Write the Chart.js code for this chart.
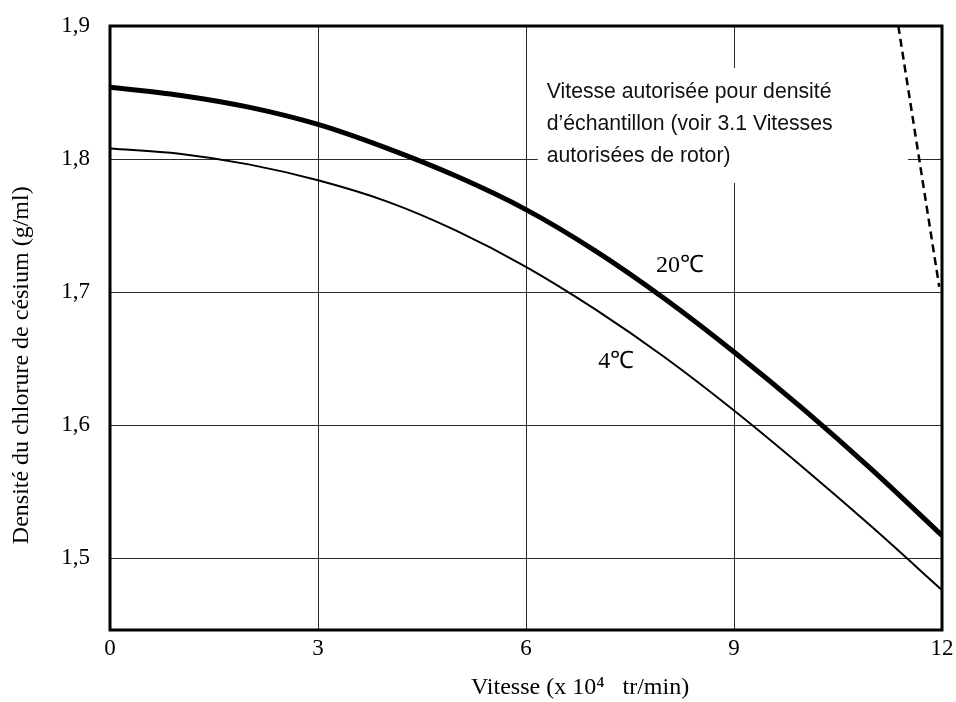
<!DOCTYPE html>
<html>
<head>
<meta charset="utf-8">
<script src="https://cdn.jsdelivr.net/npm/chart.js@4/dist/chart.umd.min.js"></script>
<style>
  html, body { margin: 0; padding: 0; background: #fff; }
  #wrap { width: 956px; height: 702px; }
</style>
</head>
<body>
<div id="wrap"><canvas id="c" width="956" height="702"></canvas></div>
<script>
// ---- data ----
const speeds = [0, 1, 2, 3, 4, 5, 6, 7, 8, 9, 10, 11, 12];
const density20C = [1.854, 1.848, 1.839, 1.826, 1.808, 1.787, 1.762, 1.731, 1.695, 1.655, 1.612, 1.566, 1.517];
const density4C  = [1.808, 1.804, 1.796, 1.784, 1.768, 1.746, 1.719, 1.687, 1.651, 1.611, 1.568, 1.523, 1.476];
const limitSpeed = [11.37, 11.96];
const limitDensity = [1.9, 1.704];
const xTickValues = [0, 3, 6, 9, 12];
const xTickLabels = ['0', '3', '6', '9', '12'];
const yTickValues = [1.5, 1.6, 1.7, 1.8, 1.9];
const yTickLabels = ['1,5', '1,6', '1,7', '1,8', '1,9'];
const seriesLabels = ['20℃', '4℃'];
const noteLines = ['Vitesse autorisée pour densité', 'd’échantillon (voir 3.1 Vitesses', 'autorisées de rotor)'];
const xTitle = 'Vitesse (x 10⁴   tr/min)';
const yTitle = 'Densité du chlorure de césium (g/ml)';

const SERIF = '"Liberation Serif", "Times New Roman", serif';
const SANS = '"Liberation Sans", Arial, sans-serif';

const toXY = (xs, ys) => xs.map((x, i) => ({ x: x, y: ys[i] }));

const decorations = {
  id: 'decorations',
  beforeDatasetsDraw(chart) {
    const { ctx, scales: { x, y } } = chart;
    ctx.save();
    // white box behind the note
    const bx0 = x.getPixelForValue(6.17), bx1 = x.getPixelForValue(11.51);
    const by0 = y.getPixelForValue(1.8684), by1 = y.getPixelForValue(1.782);
    ctx.fillStyle = '#fff';
    ctx.fillRect(bx0, by0, bx1 - bx0, by1 - by0);
    // note text (slightly condensed sans)
    ctx.fillStyle = '#111';
    ctx.font = '22px ' + SANS;
    ctx.textAlign = 'left';
    ctx.textBaseline = 'alphabetic';
    const tx = x.getPixelForValue(6.30);
    const baselines = [1.8459, 1.8218, 1.7977];
    noteLines.forEach((t, i) => {
      ctx.save();
      ctx.translate(tx, y.getPixelForValue(baselines[i]));
      ctx.scale(0.963, 1);
      ctx.fillText(t, 0, 0);
      ctx.restore();
    });
    ctx.restore();
  },
  afterDatasetsDraw(chart) {
    const { ctx, chartArea: a, scales: { x, y } } = chart;
    ctx.save();
    // frame
    ctx.strokeStyle = '#000';
    ctx.lineWidth = 3;
    ctx.strokeRect(a.left, a.top, a.right - a.left, a.bottom - a.top);
    // series labels
    ctx.fillStyle = '#000';
    ctx.font = '24px ' + SERIF;
    ctx.textAlign = 'center';
    ctx.textBaseline = 'middle';
    ctx.fillText(seriesLabels[0], x.getPixelForValue(8.22), y.getPixelForValue(1.7195));
    ctx.fillText(seriesLabels[1], x.getPixelForValue(7.30), y.getPixelForValue(1.6474));
    // axis titles
    ctx.font = '24px ' + SERIF;
    ctx.fillText(xTitle, x.getPixelForValue(6.78), a.bottom + 58);
    ctx.translate(22, y.getPixelForValue(1.645));
    ctx.rotate(-Math.PI / 2);
    ctx.fillText(yTitle, 0, 0);
    ctx.restore();
  }
};

new Chart(document.getElementById('c'), {
  type: 'line',
  data: {
    datasets: [
      {
        label: seriesLabels[0],
        data: toXY(speeds, density20C),
        borderColor: '#000',
        borderWidth: 5,
        pointRadius: 0,
        cubicInterpolationMode: 'monotone',
        fill: false
      },
      {
        label: seriesLabels[1],
        data: toXY(speeds, density4C),
        borderColor: '#000',
        borderWidth: 2,
        pointRadius: 0,
        cubicInterpolationMode: 'monotone',
        fill: false
      },
      {
        label: 'limite',
        data: toXY(limitSpeed, limitDensity),
        borderColor: '#000',
        borderWidth: 2.5,
        borderDash: [8, 5],
        pointRadius: 0,
        fill: false
      }
    ]
  },
  options: {
    responsive: false,
    animation: false,
    events: [],
    layout: { padding: { left: 0, top: 26, right: 14, bottom: 0 } },
    plugins: { legend: { display: false }, tooltip: { enabled: false }, title: { display: false } },
    scales: {
      x: {
        type: 'linear',
        min: 0, max: 12,
        afterBuildTicks(s) { s.ticks = xTickValues.map(v => ({ value: v })); },
        afterFit(s) { s.height = 72; s.paddingLeft = 0; s.paddingRight = 0; },
        ticks: {
          callback: (v) => xTickLabels[xTickValues.indexOf(v)],
          font: { family: SERIF, size: 23 },
          color: '#000',
          padding: 5,
          maxRotation: 0,
          autoSkip: false
        },
        grid: { color: '#2a2a2a', lineWidth: 1, drawTicks: false },
        border: { display: false }
      },
      y: {
        type: 'linear',
        min: 1.446, max: 1.9,
        afterBuildTicks(s) { s.ticks = yTickValues.map(v => ({ value: v })); },
        afterFit(s) { s.width = 110; s.paddingTop = 0; s.paddingBottom = 0; },
        ticks: {
          callback: (v) => yTickLabels[yTickValues.findIndex(t => Math.abs(t - v) < 1e-9)],
          font: { family: SERIF, size: 23 },
          color: '#000',
          padding: 20,
          autoSkip: false
        },
        grid: { color: '#2a2a2a', lineWidth: 1, drawTicks: false },
        border: { display: false }
      }
    }
  },
  plugins: [decorations]
});
</script>
</body>
</html>
